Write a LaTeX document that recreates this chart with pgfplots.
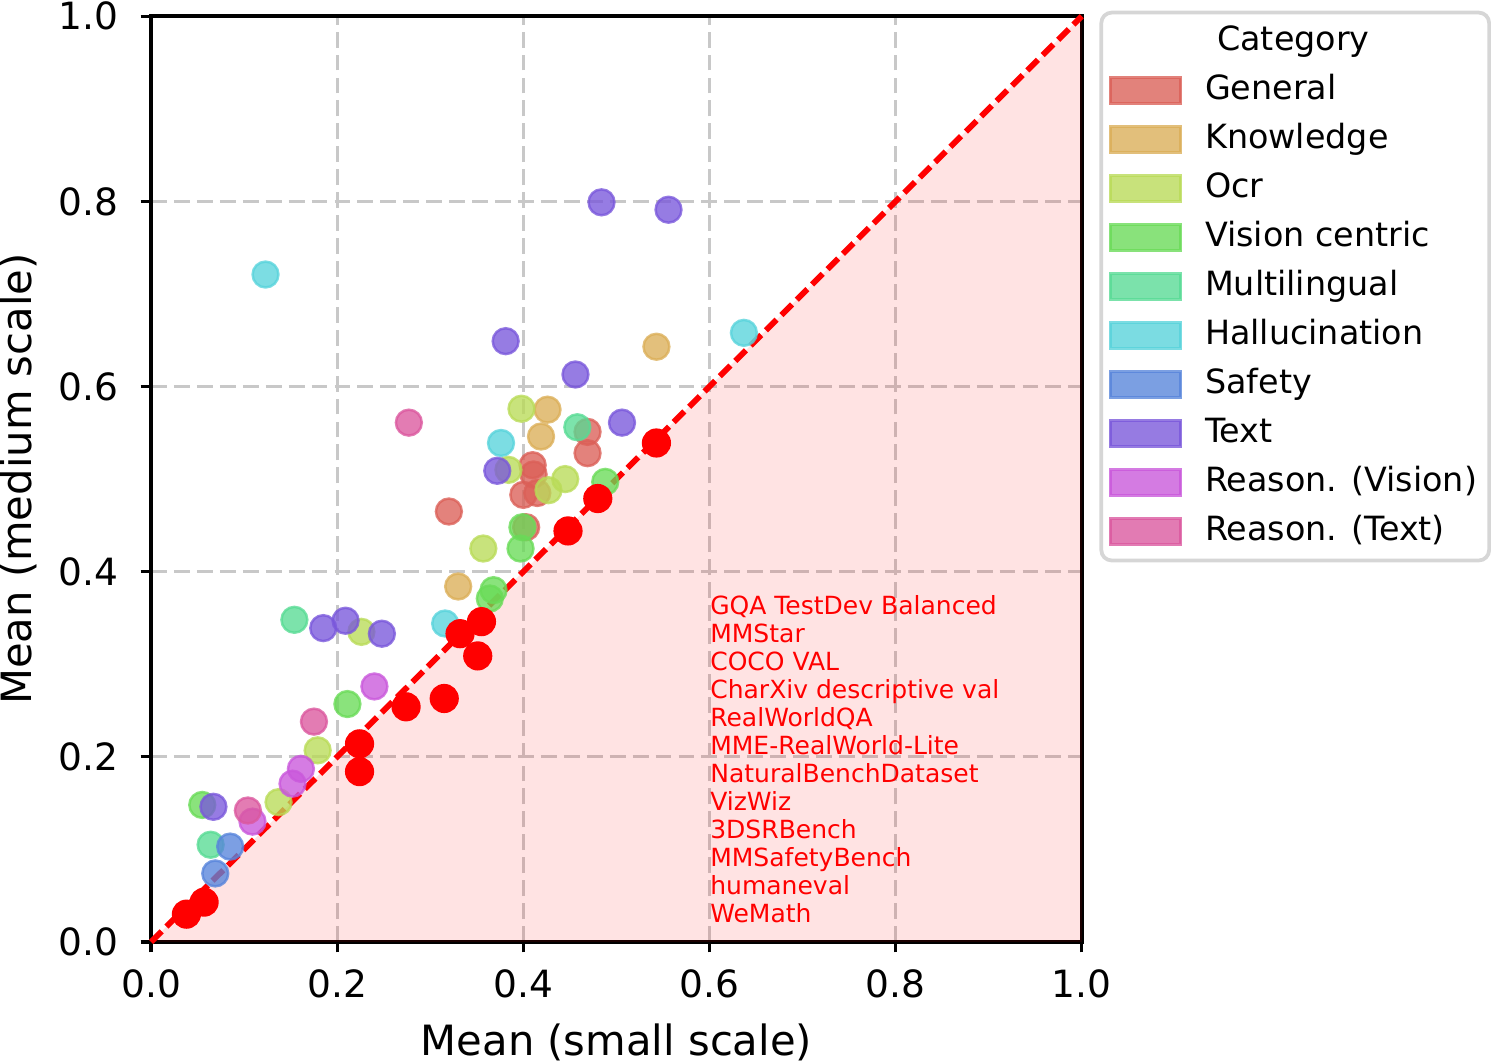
\documentclass[border=0pt]{standalone}
\usepackage{pgfplots}
\pgfplotsset{compat=1.18}
\usepackage{fontspec}
\setmainfont{DejaVu Sans}

% seaborn "hls" palette, 10 hues
\definecolor{cGeneral}{HTML}{DB5F57}
\definecolor{cKnowledge}{HTML}{DBAE57}
\definecolor{cOcr}{HTML}{B9DB57}
\definecolor{cVision}{HTML}{69DB57}
\definecolor{cMulti}{HTML}{57DB94}
\definecolor{cHalluc}{HTML}{57D3DB}
\definecolor{cSafety}{HTML}{5784DB}
\definecolor{cText}{HTML}{7957DB}
\definecolor{cReasV}{HTML}{C957DB}
\definecolor{cReasT}{HTML}{DB579E}
\definecolor{gridgray}{HTML}{C8C8C8}
\definecolor{legframe}{HTML}{D6D6D6}

\pgfplotsset{
  cat/.style={only marks, mark=*, mark size=3.1pt,
    mark options={fill=#1, draw=#1, fill opacity=0.78, draw opacity=0.78, line width=0.6pt}},
  patch/.style={legend image code/.code={
    \draw[sharp corners, fill=#1, draw=#1, fill opacity=0.78, draw opacity=0.78, line width=0.6pt]
      (0pt,-3.1pt) rectangle (16.8pt,3.1pt);}},
}

\begin{document}
\begin{tikzpicture}
\begin{axis}[
  scale only axis,
  width=223.2pt, height=222pt,
  xmin=0, xmax=1, ymin=0, ymax=1,
  xtick={0,0.2,0.4,0.6,0.8,1.0},
  ytick={0,0.2,0.4,0.6,0.8,1.0},
  xticklabel style={/pgf/number format/fixed, /pgf/number format/precision=1, /pgf/number format/fixed zerofill, inner ysep=4pt},
  yticklabel style={/pgf/number format/fixed, /pgf/number format/precision=1, /pgf/number format/fixed zerofill, inner ysep=0.5pt, inner xsep=5.2pt},
  /pgf/number format/assume math mode=true,
  ticklabel style={font=\fontsize{9}{10.5}\selectfont},
  tick align=outside, major tick length=2.5pt,
  tick style={black, line width=0.8pt},
  axis line style={black, line width=0.9pt},
  xtick pos=bottom, ytick pos=left,
  grid=major,
  major grid style={gridgray, line width=0.8pt, dash pattern=on 3.8pt off 1.7pt},
  xlabel={Mean (small scale)},
  ylabel={Mean (medium scale)},
  label style={font=\fontsize{10}{12}\selectfont},
  xlabel style={inner sep=0pt, yshift=-2pt},
  ylabel style={inner sep=0pt, yshift=-0.3pt},
  legend style={
    at={(1.019,1.006)}, anchor=north west,
    draw=legframe, line width=0.9pt, rounded corners=2.5pt, fill=white,
    font=\fontsize{8}{9.5}\selectfont,
    nodes={inner sep=1pt, text height=6pt, text depth=1.7pt},
    row sep=2.05pt, inner xsep=1.9pt, inner ysep=2.1pt,
    /tikz/every odd column/.append style={column sep=4.6pt},
  },
  legend cell align=left,
  clip=false,
]

% region below the identity line
\addplot[draw=none, fill=red, fill opacity=0.11, forget plot] coordinates {(0,0) (1,0) (1,1)} -- cycle;

% legend entries
\addlegendimage{empty legend}\addlegendentry{\hspace{2.9pt}Category}
\addlegendimage{patch=cGeneral}\addlegendentry{General}
\addlegendimage{patch=cKnowledge}\addlegendentry{Knowledge}
\addlegendimage{patch=cOcr}\addlegendentry{Ocr}
\addlegendimage{patch=cVision}\addlegendentry{Vision centric}
\addlegendimage{patch=cMulti}\addlegendentry{Multilingual}
\addlegendimage{patch=cHalluc}\addlegendentry{Hallucination}
\addlegendimage{patch=cSafety}\addlegendentry{Safety}
\addlegendimage{patch=cText}\addlegendentry{Text}
\addlegendimage{patch=cReasV}\addlegendentry{Reason. (Vision)}
\addlegendimage{patch=cReasT}\addlegendentry{Reason. (Text)}

% benchmarks by category
\addplot[cat=cGeneral, forget plot] coordinates {
  (0.320,0.465) (0.410,0.515) (0.411,0.505) (0.400,0.483) (0.415,0.485)
  (0.403,0.448) (0.469,0.551) (0.469,0.528)};
\addplot[cat=cKnowledge, forget plot] coordinates {
  (0.543,0.643) (0.426,0.575) (0.419,0.546) (0.330,0.384)};
\addplot[cat=cOcr, forget plot] coordinates {
  (0.398,0.576) (0.384,0.510) (0.445,0.500) (0.427,0.488) (0.357,0.425)
  (0.226,0.335) (0.179,0.207) (0.137,0.151)};
\addplot[cat=cVision, forget plot] coordinates {
  (0.488,0.497) (0.399,0.448) (0.397,0.425) (0.368,0.380) (0.364,0.371)
  (0.211,0.257) (0.055,0.148)};
\addplot[cat=cMulti, forget plot] coordinates {
  (0.458,0.556) (0.154,0.348) (0.064,0.105)};
\addplot[cat=cHalluc, forget plot] coordinates {
  (0.123,0.721) (0.637,0.658) (0.376,0.539) (0.316,0.344)};
\addplot[cat=cSafety, forget plot] coordinates {
  (0.085,0.103) (0.069,0.074)};
\addplot[cat=cText, forget plot] coordinates {
  (0.484,0.799) (0.556,0.791) (0.381,0.649) (0.456,0.613) (0.506,0.561)
  (0.372,0.509) (0.185,0.339) (0.209,0.347) (0.248,0.333) (0.067,0.146)};
\addplot[cat=cReasV, forget plot] coordinates {
  (0.240,0.276) (0.161,0.187) (0.152,0.171) (0.109,0.130)};
\addplot[cat=cReasT, forget plot] coordinates {
  (0.277,0.561) (0.175,0.238) (0.104,0.142)};

% identity line
\addplot[red, line width=1.4pt, dash pattern=on 3.6pt off 1.6pt, forget plot] coordinates {(0,0) (1,1)};

% benchmarks where the medium model does not improve
\addplot[only marks, mark=*, mark size=3.3pt, mark options={fill=red, draw=red}, forget plot] coordinates {
  (0.038,0.030) (0.057,0.043) (0.224,0.214) (0.224,0.184) (0.274,0.254)
  (0.315,0.263) (0.332,0.333) (0.355,0.346) (0.351,0.309) (0.448,0.444)
  (0.480,0.479) (0.543,0.539)};

\node[anchor=north west, align=left, text=red, inner sep=0pt,
      font=\fontsize{6}{6.72}\selectfont]
  at (axis cs:0.600,0.375) {GQA TestDev Balanced\\MMStar\\COCO VAL\\CharXiv descriptive val\\RealWorldQA\\MME-RealWorld-Lite\\NaturalBenchDataset\\VizWiz\\3DSRBench\\MMSafetyBench\\humaneval\\WeMath};
\end{axis}
\end{tikzpicture}
\end{document}
